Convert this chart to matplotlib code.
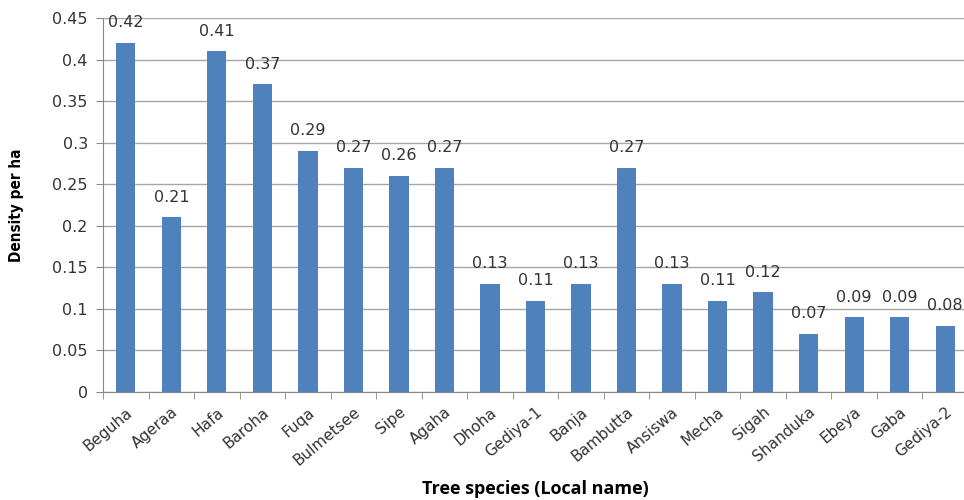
import numpy as np
import matplotlib.pyplot as plt

species = ['Beguha', 'Ageraa', 'Hafa', 'Baroha', 'Fuqa', 'Bulmetsee', 'Sipe',
           'Agaha', 'Dhoha', 'Gediya-1', 'Banja', 'Bambutta', 'Ansiswa', 'Mecha',
           'Sigah', 'Shanduka', 'Ebeya', 'Gaba', 'Gediya-2']
density = [0.42, 0.21, 0.41, 0.37, 0.29, 0.27, 0.26, 0.27, 0.13, 0.11, 0.13,
           0.27, 0.13, 0.11, 0.12, 0.07, 0.09, 0.09, 0.08]
yticks = [0, 0.05, 0.1, 0.15, 0.2, 0.25, 0.3, 0.35, 0.4, 0.45]
ytick_labels = ['0', '0.05', '0.1', '0.15', '0.2', '0.25', '0.3', '0.35', '0.4', '0.45']

fig = plt.figure(figsize=(9.64, 5), dpi=100)
ax = fig.add_axes([0.107, 0.216, 0.897, 0.748])

x = np.arange(len(species))
bars = ax.bar(x, density, width=0.42, color='#4F81BD', zorder=3)

for xi, v in zip(x, density):
    ax.annotate(f'{v:.2f}', (xi, v), xytext=(0, 9), textcoords='offset points',
                ha='center', va='bottom', fontsize=11.5, color='#333333')

ax.set_xlim(-0.5, len(species) - 0.5)
ax.set_ylim(0, 0.45)
ax.set_yticks(yticks)
ax.set_yticklabels(ytick_labels, fontsize=11.5, color='#333333')
ax.yaxis.grid(True, color='#A6A6A6', linewidth=1, zorder=0)

# category labels at bar centres, tick marks at the boundaries
ax.set_xticks(x)
ax.set_xticklabels(species, rotation=40, ha='right', rotation_mode='anchor',
                   fontsize=11, color='#333333')
ax.tick_params(axis='x', length=0, pad=9)
ax.set_xticks(np.arange(len(species) + 1) - 0.5, minor=True)
ax.tick_params(axis='x', which='minor', length=5, color='#888888')
ax.tick_params(axis='y', length=5, color='#888888', pad=6)

for s in ['top', 'right']:
    ax.spines[s].set_visible(False)
ax.spines['left'].set_color('#888888')
ax.spines['bottom'].set_color('#888888')

ax.set_ylabel('Density per ha', fontsize=11, fontweight='bold',
              family='DejaVu Sans', fontstretch='condensed', labelpad=20)
ax.set_xlabel('Tree species (Local name)', fontsize=13, fontweight='bold',
              family=['Open Sans', 'DejaVu Sans'], labelpad=8)

fig.savefig('out.png', dpi=100)
